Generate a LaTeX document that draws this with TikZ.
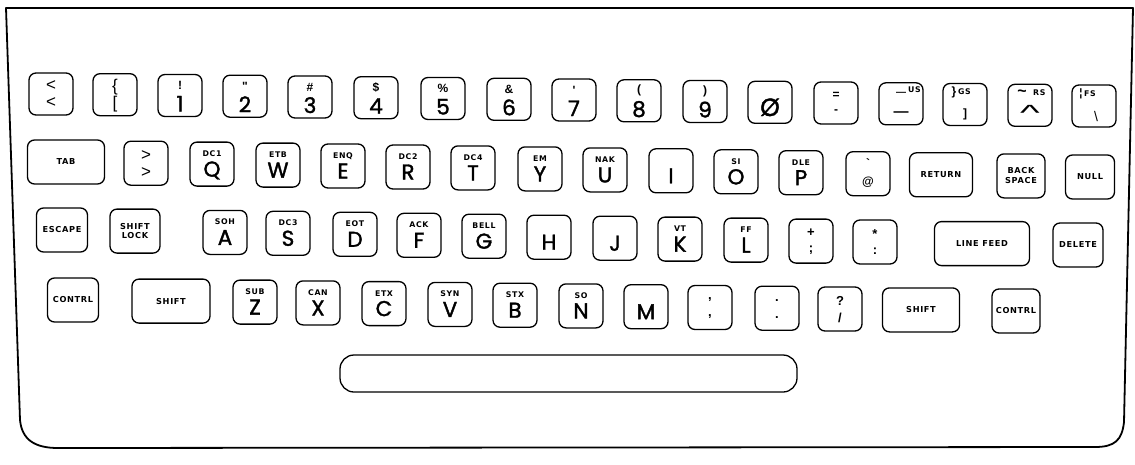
\documentclass[tikz,border=0pt]{standalone}
\usepackage{fontspec}
\setmainfont{Poppins}
\newfontfamily\gfont{Poppins}[FakeBold=1.6]
\newfontfamily\lfont{Liberation Sans}
\newfontfamily\cfont{DejaVu Sans}[LetterSpace=8]
\tikzset{
 keybox/.style={draw, line width=1.3pt, rounded corners=7pt, minimum width=44pt, minimum height=44pt, inner sep=0pt},
 code/.style={font=\cfont\bfseries\fontsize{7.8}{8}\selectfont, inner sep=0pt},
 glyph/.style={font=\gfont\fontsize{21.5}{21.5}\selectfont, inner sep=0pt},
 shiftch/.style={font=\lfont\bfseries\fontsize{12}{12}\selectfont, inner sep=0pt},
 pairch/.style={font=\lfont\fontsize{17}{17}\selectfont, inner sep=0pt},
 punct/.style={font=\lfont\bfseries\fontsize{13}{13}\selectfont, inner sep=0pt},
 word/.style={font=\cfont\bfseries\fontsize{8.2}{9.8}\selectfont, align=center},
 outline/.style={line width=1.8pt, line join=round}
}
% letter key: name, x, y, code label, letter
\newcommand\LKey[5]{%
 \node[keybox] (#1) at (#2,#3) {};
 \node[code,anchor=base] (#1-c) at ([yshift=7.5pt]#1.center) {#4};
 \node[glyph,anchor=base] (#1-g) at ([yshift=-12.5pt]#1.center) {#5};}
% digit key: name, x, y, shifted char, digit
\newcommand\DKey[5]{%
 \node[keybox,minimum height=42pt] (#1) at (#2,#3) {};
 \node[shiftch] (#1-c) at ([yshift=10pt]#1.center) {#4};
 \node[glyph,anchor=base] (#1-g) at ([yshift=-16pt]#1.center) {#5};}
% pair key: name, x, y, top, bottom, style, height
\newcommand\PKey[7]{%
 \node[keybox,minimum height=#7] (#1) at (#2,#3) {};
 \node[#6] (#1-c) at ([yshift=8pt]#1.center) {#4};
 \node[#6] (#1-g) at ([yshift=-9pt]#1.center) {#5};}
% word key: name, x, y, width, text
\newcommand\WKey[5]{%
 \node[keybox,word,minimum width=#4] (#1) at (#2,#3) {#5};}
\begin{document}
\begin{tikzpicture}[x=1pt,y=-1pt]
\useasboundingbox (0,0) rectangle (1135,464);
% housing outline
\draw[outline] (6,8) -- (1133,8) -- (1124,422)
  .. controls (1122,440) and (1115,447) .. (1095,447) -- (58,448)
  .. controls (35,448) and (22,440) .. (20,420) -- cycle;
% ---- row 1
\PKey{klt}{51}{94}{<}{<}{pairch}{42pt}
\PKey{kbr}{115}{94.7}{\{}{[}{pairch}{42pt}
\DKey{k1}{180}{95.5}{!}{1}
\DKey{k2}{245}{96.2}{"}{2}
\DKey{k3}{310}{97}{\#}{3}
\DKey{k4}{376}{97.7}{\$}{4}
\DKey{k5}{443}{98.5}{\%}{5}
\DKey{k6}{509}{99.3}{\&}{6}
\DKey{k7}{574}{100}{'}{7}
\DKey{k8}{639}{100.8}{(}{8}
\DKey{k9}{705}{101.5}{)}{9}
\node[keybox,minimum height=42pt] (k0) at (770,102.3) {};
\node[inner sep=0pt,font=\gfont\fontsize{25}{25}\selectfont] (k0-g) at ([yshift=-5pt]k0.center) {Ø};
\PKey{keq}{836}{103}{=}{-}{shiftch}{42pt}
% US key
\node[keybox,minimum height=42pt] (kus) at (901,103.8) {};
\node[font=\lfont\bfseries\fontsize{10}{10}\selectfont,inner sep=0pt] (kus-a) at ([yshift=10pt]kus.center) {—};
\node[code,anchor=base west] (kus-c) at ([xshift=7pt,yshift=11pt]kus.center) {US};
\node[font=\lfont\bfseries\fontsize{15}{15}\selectfont,inner sep=0pt] (kus-g) at ([yshift=-10pt]kus.center) {—};
% GS key
\node[keybox,minimum height=42pt] (kgs) at (965,104.5) {};
\node[shiftch] (kgs-a) at ([xshift=-11pt,yshift=12pt]kgs.center) {\}};
\node[code,anchor=base west] (kgs-c) at ([xshift=-7pt,yshift=10pt]kgs.center) {GS};
\node[shiftch] (kgs-g) at ([yshift=-10pt]kgs.center) {]};
% RS key
\node[keybox,minimum height=42pt] (krs) at (1030,105.3) {};
\node[font=\lfont\bfseries\fontsize{16}{16}\selectfont,inner sep=0pt] (krs-a) at ([xshift=-8pt,yshift=12pt]krs.center) {\textasciitilde};
\node[code,anchor=base west] (krs-c) at ([xshift=3pt,yshift=10pt]krs.center) {RS};
\node[font=\lfont\fontsize{22}{22}\selectfont,inner sep=0pt] (krs-g) at ([yshift=-8pt]krs.center) {\scalebox{1.9}[1]{\textasciicircum}};
% FS key
\node[keybox,minimum height=42pt] (kfs) at (1094,106) {};
\node[shiftch,font=\lfont\bfseries\fontsize{11}{11}\selectfont] (kfs-a) at ([xshift=-13pt,yshift=12pt]kfs.center) {¦};
\node[code,anchor=base west] (kfs-c) at ([xshift=-10pt,yshift=10pt]kfs.center) {FS};
\node[font=\lfont\fontsize{14}{14}\selectfont,inner sep=0pt] (kfs-g) at ([xshift=2pt,yshift=-10pt]kfs.center) {\textbackslash};
% ---- row 2
\WKey{ktab}{66}{162}{77pt}{TAB}
\PKey{kgt}{146}{163.2}{>}{>}{pairch}{44pt}
\LKey{kq}{212}{164.1}{DC1}{Q}
\LKey{kw}{278}{165.1}{ETB}{W}
\LKey{ke}{343}{166}{ENQ}{E}
\LKey{kr}{408}{167}{DC2}{R}
\LKey{kt}{473}{167.9}{DC4}{T}
\LKey{ky}{540}{168.9}{EM}{Y}
\LKey{ku}{605}{169.9}{NAK}{U}
\LKey{ki}{671}{170.8}{}{I}
\LKey{ko}{736}{171.8}{SI}{O}
\LKey{kp}{801}{172.7}{DLE}{P}
\node[keybox] (kat) at (868,173.7) {};
\node[shiftch] (kat-c) at ([yshift=11pt]kat.center) {\textasciigrave};
\node[font=\lfont\bfseries\fontsize{12}{12}\selectfont,inner sep=0pt] (kat-g) at ([yshift=-8pt]kat.center) {@};
\WKey{kret}{941}{174.8}{63pt}{RETURN}
\WKey{kbs}{1021}{175.9}{48pt}{BACK\\SPACE}
\WKey{knull}{1090}{177}{49pt}{NULL}
% ---- row 3
\WKey{kesc}{62}{230}{51pt}{ESCAPE}
\WKey{klock}{135}{231.1}{50pt}{SHIFT\\LOCK}
\LKey{ka}{225}{232.4}{SOH}{A}
\LKey{ks}{288}{233.3}{DC3}{S}
\LKey{kd}{355}{234.3}{EOT}{D}
\LKey{kf}{419}{235.3}{ACK}{F}
\LKey{kg}{484}{236.2}{BELL}{G}
\LKey{kh}{549}{237.2}{}{H}
\LKey{kj}{615}{238.2}{}{J}
\LKey{kk}{680}{239.1}{VT}{K}
\LKey{kl}{746}{240.1}{FF}{L}
\PKey{ksc}{811}{241.1}{+}{;}{punct}{44pt}
\PKey{kco}{875}{242}{*}{:}{punct}{44pt}
\WKey{klf}{982}{243.6}{95pt}{LINE FEED}
\WKey{kdel}{1078}{245}{50pt}{DELETE}
% ---- row 4
\WKey{kctl}{73}{300}{51pt}{CONTRL}
\WKey{kshl}{171}{301.1}{78pt}{SHIFT}
\LKey{kz}{255}{302.1}{SUB}{Z}
\LKey{kx}{318}{302.9}{CAN}{X}
\LKey{kc}{384}{303.6}{ETX}{C}
\LKey{kv}{450}{304.4}{SYN}{V}
\LKey{kb}{515}{305.2}{STX}{B}
\LKey{kn}{581}{305.9}{SO}{N}
\LKey{km}{646}{306.7}{}{M}
\PKey{kcm}{710}{307.5}{,}{,}{punct}{44pt}
\PKey{kpd}{777}{308.2}{.}{.}{punct}{44pt}
\PKey{ksl}{840}{309}{?}{/}{punct}{44pt}
\WKey{kshr}{921}{309.9}{77pt}{SHIFT}
\WKey{kctr}{1016}{311}{48pt}{CONTRL}
% space bar
\node[draw, line width=1.3pt, rounded corners=14pt, minimum width=457pt, minimum height=37pt, inner sep=0pt] (space) at (568.5,373.5) {};
\end{tikzpicture}
\end{document}
